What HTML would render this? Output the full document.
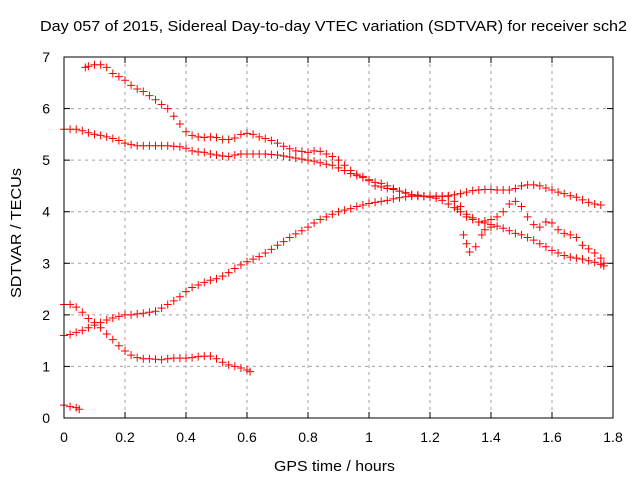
<!DOCTYPE html>
<html><head><meta charset="utf-8"><style>
html,body{margin:0;padding:0;background:#fff}
svg{display:block;font-family:"Liberation Sans",sans-serif}
</style></head><body>
<svg id="chart" width="640" height="480">
<text x="40" y="31" font-size="15" textLength="587" lengthAdjust="spacingAndGlyphs">Day 057 of 2015, Sidereal Day-to-day VTEC variation (SDTVAR) for receiver sch2</text>
<g id="grid"></g>
<g id="axes"></g>
<g id="marks"></g>
<rect x="64" y="57" width="549" height="361" fill="none" stroke="#000" stroke-width="1"/>
<text x="274" y="471" font-size="15" textLength="121" lengthAdjust="spacingAndGlyphs">GPS time / hours</text>
<text transform="translate(21,298) rotate(-90)" font-size="15" textLength="130" lengthAdjust="spacingAndGlyphs">SDTVAR / TECUs</text>
</svg>
<script>
const xTicks=[0,0.2,0.4,0.6,0.8,1,1.2,1.4,1.6,1.8];
const xTickLabels=["0","0.2","0.4","0.6","0.8","1","1.2","1.4","1.6","1.8"];
const yTicks=[0,1,2,3,4,5,6,7];
const yTickLabels=["0","1","2","3","4","5","6","7"];
const seriesA=[[0.07,6.8],[0.08,6.82],[0.10,6.85],[0.12,6.85],[0.14,6.8],[0.16,6.68],[0.18,6.62],[0.20,6.55],[0.22,6.45],[0.24,6.38],[0.26,6.33],[0.28,6.25],[0.30,6.17],[0.32,6.08],[0.34,6.0],[0.36,5.85],[0.38,5.7],[0.40,5.55],[0.42,5.48],[0.44,5.45],[0.46,5.44],[0.48,5.45],[0.50,5.44],[0.52,5.4],[0.54,5.4],[0.56,5.43],[0.58,5.5],[0.60,5.52],[0.62,5.5],[0.64,5.45],[0.66,5.42],[0.68,5.38],[0.70,5.33],[0.72,5.27],[0.74,5.22],[0.76,5.18],[0.78,5.17],[0.80,5.15],[0.82,5.18],[0.84,5.17],[0.86,5.12],[0.88,5.07],[0.90,5.0],[0.92,4.9],[0.94,4.8],[0.96,4.73],[0.98,4.68],[1.00,4.6],[1.02,4.57],[1.04,4.55],[1.06,4.5],[1.08,4.45],[1.10,4.4],[1.12,4.36],[1.14,4.33],[1.16,4.32],[1.18,4.3],[1.20,4.28],[1.22,4.26],[1.24,4.22],[1.26,4.15],[1.28,4.08],[1.30,4.0],[1.32,3.95],[1.34,3.88],[1.36,3.8],[1.38,3.78],[1.40,3.75],[1.42,3.72],[1.44,3.68],[1.46,3.63],[1.48,3.58],[1.50,3.55],[1.52,3.5],[1.54,3.45],[1.56,3.38],[1.58,3.32],[1.60,3.25],[1.62,3.2],[1.64,3.15],[1.66,3.12],[1.68,3.1],[1.70,3.08],[1.72,3.05],[1.74,3.02],[1.76,2.98],[1.77,2.95]];
const seriesB=[[0,5.6],[0.02,5.6],[0.04,5.6],[0.06,5.57],[0.08,5.53],[0.10,5.5],[0.12,5.48],[0.14,5.45],[0.16,5.42],[0.18,5.38],[0.20,5.33],[0.22,5.3],[0.24,5.28],[0.26,5.28],[0.28,5.28],[0.30,5.28],[0.32,5.28],[0.34,5.28],[0.36,5.27],[0.38,5.26],[0.40,5.23],[0.42,5.18],[0.44,5.16],[0.46,5.15],[0.48,5.12],[0.50,5.1],[0.52,5.08],[0.54,5.07],[0.56,5.1],[0.58,5.12],[0.60,5.12],[0.62,5.12],[0.64,5.12],[0.66,5.12],[0.68,5.11],[0.70,5.1],[0.72,5.08],[0.74,5.06],[0.76,5.04],[0.78,5.02],[0.80,5.0],[0.82,4.98],[0.84,4.95],[0.86,4.92],[0.88,4.9],[0.90,4.85],[0.92,4.8],[0.94,4.74],[0.96,4.7],[0.98,4.66],[1.00,4.62],[1.02,4.5],[1.04,4.48],[1.06,4.45],[1.08,4.43],[1.10,4.4],[1.12,4.37],[1.14,4.33],[1.16,4.32],[1.18,4.3],[1.20,4.3],[1.22,4.3],[1.24,4.3],[1.26,4.3],[1.28,4.2],[1.30,4.1],[1.32,3.9],[1.34,3.85],[1.36,3.8],[1.38,3.82],[1.40,3.85],[1.42,3.9],[1.44,4.0],[1.46,4.15],[1.48,4.2],[1.50,4.1],[1.52,3.9],[1.54,3.75],[1.56,3.7],[1.58,3.8],[1.60,3.78],[1.62,3.65],[1.64,3.58],[1.66,3.55],[1.68,3.5],[1.70,3.35],[1.72,3.28],[1.74,3.2],[1.76,3.1],[1.77,3.0]];
const seriesScatter=[[1.29,4.05],[1.31,3.55],[1.32,3.38],[1.33,3.22],[1.35,3.32],[1.37,3.55],[1.38,3.65],[1.40,3.7]];
const seriesC=[[0,1.6],[0.02,1.62],[0.04,1.66],[0.06,1.7],[0.08,1.75],[0.10,1.8],[0.12,1.85],[0.14,1.9],[0.16,1.94],[0.18,1.97],[0.20,2.0],[0.22,2.0],[0.24,2.02],[0.26,2.03],[0.28,2.05],[0.30,2.07],[0.32,2.13],[0.34,2.2],[0.36,2.27],[0.38,2.35],[0.40,2.45],[0.42,2.53],[0.44,2.58],[0.46,2.63],[0.48,2.67],[0.50,2.7],[0.52,2.75],[0.54,2.82],[0.56,2.9],[0.58,2.97],[0.60,3.03],[0.62,3.08],[0.64,3.13],[0.66,3.2],[0.68,3.27],[0.70,3.35],[0.72,3.42],[0.74,3.5],[0.76,3.57],[0.78,3.63],[0.80,3.7],[0.82,3.78],[0.84,3.85],[0.86,3.9],[0.88,3.95],[0.90,4.0],[0.92,4.03],[0.94,4.06],[0.96,4.1],[0.98,4.13],[1.00,4.16],[1.02,4.18],[1.04,4.2],[1.06,4.22],[1.08,4.25],[1.10,4.27],[1.12,4.29],[1.14,4.3],[1.16,4.3],[1.18,4.3],[1.20,4.3],[1.22,4.3],[1.24,4.3],[1.26,4.31],[1.28,4.33],[1.30,4.35],[1.32,4.38],[1.34,4.41],[1.36,4.42],[1.38,4.43],[1.40,4.43],[1.42,4.42],[1.44,4.42],[1.46,4.42],[1.48,4.45],[1.50,4.5],[1.52,4.52],[1.54,4.52],[1.56,4.5],[1.58,4.46],[1.60,4.42],[1.62,4.38],[1.64,4.35],[1.66,4.31],[1.68,4.28],[1.70,4.23],[1.72,4.18],[1.74,4.15],[1.76,4.13]];
const seriesD=[[0,2.2],[0.02,2.2],[0.04,2.15],[0.06,2.05],[0.08,1.93],[0.10,1.85],[0.12,1.75],[0.14,1.63],[0.16,1.52],[0.18,1.4],[0.20,1.3],[0.22,1.22],[0.24,1.17],[0.26,1.15],[0.28,1.15],[0.30,1.14],[0.32,1.13],[0.34,1.15],[0.36,1.16],[0.38,1.16],[0.40,1.16],[0.42,1.17],[0.44,1.19],[0.46,1.2],[0.48,1.2],[0.50,1.15],[0.52,1.08],[0.54,1.03],[0.56,1.0],[0.58,0.97],[0.60,0.93],[0.61,0.9]];
const seriesE=[[0,0.25],[0.02,0.22],[0.04,0.2],[0.05,0.17]];

const NS="http://www.w3.org/2000/svg";
const X0=64,X1=613,Y0=418,Y1=57;
function xs(v){return X0+(v-0)/(1.8-0)*(X1-X0);}
function ys(v){return Y0-(v-0)/(7-0)*(Y0-Y1);}
function mk(tag,attrs,parent){const e=document.createElementNS(NS,tag);for(const k in attrs)e.setAttribute(k,attrs[k]);parent.appendChild(e);return e;}
const grid=document.getElementById('grid'),axes=document.getElementById('axes'),marks=document.getElementById('marks');
xTicks.forEach((t,i)=>{
  const x=xs(t);
  if(i>0&&i<xTicks.length-1){const g=mk('line',{x1:x,x2:x,y1:Y1,y2:Y0,stroke:'#a0a0a0','stroke-dasharray':'3,4'},grid);
  
  }
  mk('line',{x1:x,x2:x,y1:Y0,y2:Y0-6,stroke:'#000'},axes);
  mk('line',{x1:x,x2:x,y1:Y1,y2:Y1+6,stroke:'#000'},axes);
  const l=mk('text',{x:x,y:Y0+24,'font-size':14,'text-anchor':'middle'},axes);l.textContent=xTickLabels[i];
  
  
});
yTicks.forEach((t,i)=>{
  const y=ys(t);
  if(i>0&&i<yTicks.length-1){const g=mk('line',{x1:X0,x2:X1,y1:y,y2:y,stroke:'#a0a0a0','stroke-dasharray':'3,4'},grid);
  
  }
  mk('line',{x1:X0,x2:X0+6,y1:y,y2:y,stroke:'#000'},axes);
  mk('line',{x1:X1,x2:X1-6,y1:y,y2:y,stroke:'#000'},axes);
  const l=mk('text',{x:X0-14,y:y+5,'font-size':14,'text-anchor':'end'},axes);l.textContent=yTickLabels[i];
  
  
});
function drawSeries(data,name){
  const g=mk('g',{},marks);
  
  
  data.forEach(p=>{
    const x=xs(p[0]),y=ys(p[1]);
    const m=mk('path',{d:`M${x-4},${y}H${x+4}M${x},${y-4}V${y+4}`,stroke:'#ff0000','stroke-width':1,fill:'none'},g);
    
    
  });
}
drawSeries(seriesA,'series-a');
drawSeries(seriesB,'series-b');
drawSeries(seriesScatter,'series-scatter');
drawSeries(seriesC,'series-c');
drawSeries(seriesD,'series-d');
drawSeries(seriesE,'series-e');
</script>
</body></html>
